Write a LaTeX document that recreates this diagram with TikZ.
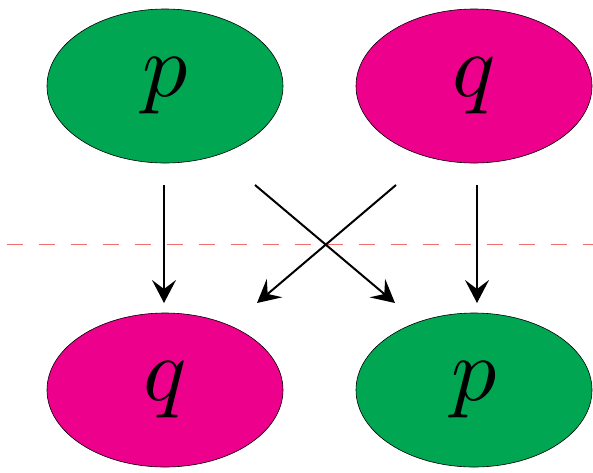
\documentclass[tikz,border=0pt]{standalone}
\usepackage{graphicx}
\usetikzlibrary{shapes.geometric,arrows.meta}
\definecolor{pgreen}{HTML}{00A651}
\definecolor{qmag}{HTML}{EC008C}
\definecolor{dashred}{HTML}{F26D6D}
\newcommand{\bigsym}[1]{\scalebox{9}{$#1$}}
\tikzset{
  blob/.style={ellipse, draw=black, line width=0.6pt, minimum width=236pt, minimum height=154pt, inner sep=0pt},
  gblob/.style={blob, fill=pgreen},
  mblob/.style={blob, fill=qmag},
  conn/.style={line width=2pt, -{Stealth[length=23pt,width=24pt,inset=9pt]}},
  sep/.style={dashred, line width=0.8pt, dash pattern=on 16pt off 16pt}
}
\begin{document}
\begin{tikzpicture}[x=1pt,y=-1pt]
\useasboundingbox (0,0) rectangle (593,472);
\node[gblob] (tl) at (165,86) {\bigsym{p}};
\node[mblob] (tr) at (474,86) {\bigsym{q}};
\node[mblob] (bl) at (165,390) {\bigsym{q}};
\node[gblob] (br) at (474,390) {\bigsym{p}};
\coordinate (lineL) at (7,244);
\coordinate (lineR) at (593,244);
\draw[sep] (lineL) -- (lineR);
\coordinate (a1) at (164,185);
\coordinate (a2) at (164,303);
\coordinate (b1) at (477,185);
\coordinate (b2) at (477,303);
\coordinate (c1) at (255,185);
\coordinate (c2) at (395,303);
\coordinate (d1) at (396,185);
\coordinate (d2) at (257,303);
\draw[conn] (a1) -- (a2);
\draw[conn] (b1) -- (b2);
\draw[conn] (c1) -- (c2);
\draw[conn] (d1) -- (d2);
\end{tikzpicture}
\end{document}
